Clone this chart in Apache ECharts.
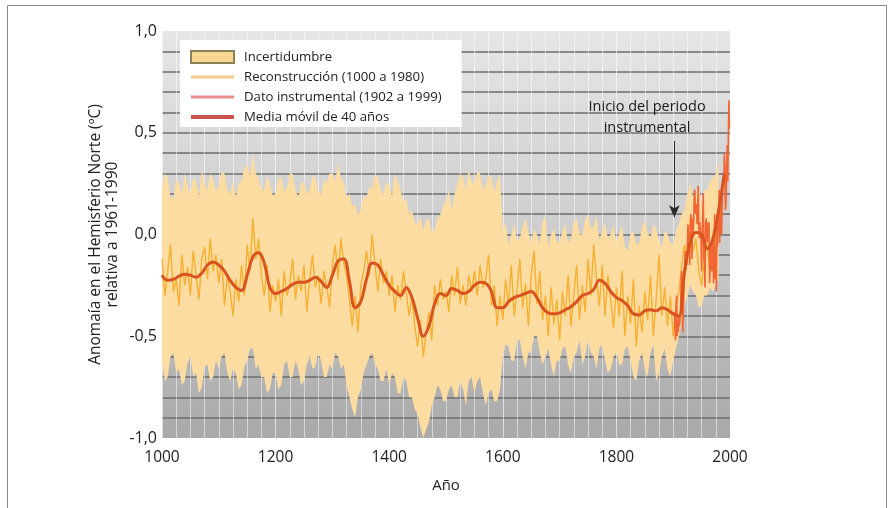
<!DOCTYPE html>
<html>
<head>
<meta charset="utf-8">
<script src="https://cdn.jsdelivr.net/npm/echarts@6/dist/echarts.min.js"></script>
<style>
html,body{margin:0;padding:0;background:#fff;}
#c{width:891px;height:508px;}
</style>
</head>
<body>
<div id="c"></div>
<script>
// ---------- DATA ----------
// Reconstruction, every 5 years 1000..1980
const reconStart = 1000, reconStep = 5;
const reconValues = [
 -0.12,-0.30,-0.18,-0.05,-0.28,-0.22,-0.35,-0.10,-0.25,-0.16,
 -0.30,-0.08,-0.20,-0.32,-0.12,-0.06,-0.22,-0.02,-0.18,-0.10,
 -0.24,-0.12,-0.35,-0.20,-0.28,-0.40,-0.22,-0.33,-0.15,-0.30,
 -0.05,-0.18,0.08,-0.12,-0.02,-0.20,-0.30,-0.15,-0.38,-0.25,
 -0.33,-0.22,-0.40,-0.18,-0.30,-0.24,-0.12,-0.32,-0.20,-0.28,
 -0.15,-0.38,-0.22,-0.10,-0.26,-0.20,-0.34,-0.18,-0.25,-0.36,
 -0.15,-0.05,-0.22,-0.02,-0.14,-0.20,-0.32,-0.45,-0.30,-0.48,
 -0.25,-0.18,-0.08,-0.20,0.00,-0.15,-0.28,-0.12,-0.24,-0.18,
 -0.30,-0.20,-0.38,-0.25,-0.32,-0.18,-0.28,-0.40,-0.30,-0.45,
 -0.55,-0.42,-0.60,-0.48,-0.38,-0.52,-0.25,-0.35,-0.22,-0.32,
 -0.28,-0.38,-0.20,-0.30,-0.16,-0.34,-0.25,-0.35,-0.20,-0.28,
 -0.18,-0.30,-0.15,-0.26,-0.22,-0.10,-0.35,-0.25,-0.45,-0.30,
 -0.42,-0.22,-0.35,-0.15,-0.40,-0.28,-0.12,-0.36,-0.24,-0.45,
 -0.20,-0.08,-0.34,-0.18,-0.42,-0.30,-0.50,-0.26,-0.44,-0.32,
 -0.52,-0.28,-0.40,-0.20,-0.45,-0.30,-0.15,-0.42,-0.25,-0.38,
 -0.12,-0.30,-0.05,-0.22,-0.35,-0.15,-0.40,-0.20,-0.32,-0.46,
 -0.26,-0.40,-0.18,-0.50,-0.30,-0.44,-0.22,-0.55,-0.35,-0.48,
 -0.28,-0.42,-0.20,-0.50,-0.32,-0.10,-0.40,-0.26,-0.45,-0.30,
 -0.50,-0.35,-0.28,-0.15,-0.05,-0.12,0.05,-0.08,-0.02,-0.18,
 -0.25,-0.10,-0.05,-0.20,0.00,0.08,0.12
];
// Uncertainty band, every 5 years 1000..1980
const bandStart = 1000, bandStep = 5;
const bandUpper = [
 0.22,0.30,0.28,0.18,0.18,0.27,0.25,0.20,0.30,0.24, 0.20,0.28,0.26,0.19,0.32,0.25,0.22,0.30,0.27,0.21,
 0.24,0.31,0.30,0.22,0.20,0.26,0.18,0.25,0.26,0.33, 0.34,0.29,0.40,0.30,0.28,0.22,0.22,0.29,0.25,0.19,
 0.20,0.27,0.28,0.21,0.23,0.30,0.30,0.22,0.18,0.25, 0.26,0.20,0.22,0.29,0.28,0.21,0.20,0.27,0.25,0.30,
 0.30,0.26,0.35,0.28,0.26,0.18,0.20,0.14,0.15,0.10, 0.12,0.19,0.18,0.24,0.22,0.30,0.28,0.22,0.20,0.26,
 0.24,0.19,0.30,0.26,0.22,0.16,0.18,0.10,0.12,0.06, 0.05,0.09,0.02,0.07,0.08,0.01,0.03,0.08,0.10,0.14,
 0.16,0.22,0.12,0.20,0.25,0.30,0.28,0.22,0.32,0.26, 0.25,0.31,0.30,0.22,0.24,0.29,0.28,0.21,0.26,0.30,
 0.02,0.06,-0.05,0.00,0.05,-0.03,-0.02,0.04,0.08,0.01, -0.04,0.03,0.00,-0.05,0.06,0.09,-0.06,0.00,0.03,-0.03,
 -0.04,0.02,0.05,-0.04,-0.02,0.06,0.08,0.00,0.00,0.07, 0.10,0.03,0.04,0.09,-0.03,0.02,0.06,-0.02,0.00,0.05,
 -0.05,0.01,0.04,-0.06,-0.08,0.00,0.02,-0.05,-0.04,0.03, 0.07,0.01,-0.02,0.05,0.03,-0.03,-0.06,0.02,0.00,-0.04,
 -0.05,0.02,0.05,0.10,0.12,0.20,0.25,0.18,0.20,0.24, 0.15,0.22,0.22,0.26,0.28,0.30,0.35
];
const bandLower = [
 -0.62,-0.72,-0.70,-0.60,-0.58,-0.68,-0.66,-0.74,-0.72,-0.63, -0.60,-0.70,-0.68,-0.78,-0.75,-0.65,-0.64,-0.72,-0.70,-0.62,
 -0.66,-0.60,-0.58,-0.68,-0.72,-0.66,-0.68,-0.76,-0.74,-0.65, -0.62,-0.56,-0.56,-0.66,-0.64,-0.70,-0.70,-0.78,-0.76,-0.68,
 -0.68,-0.76,-0.74,-0.64,-0.62,-0.70,-0.70,-0.62,-0.66,-0.74, -0.72,-0.64,-0.60,-0.66,-0.65,-0.58,-0.62,-0.70,-0.70,-0.64,
 -0.66,-0.58,-0.60,-0.66,-0.64,-0.74,-0.80,-0.86,-0.90,-0.80, -0.76,-0.68,-0.64,-0.60,-0.58,-0.64,-0.66,-0.72,-0.72,-0.66,
 -0.74,-0.68,-0.70,-0.78,-0.78,-0.70,-0.72,-0.80,-0.80,-0.86, -0.88,-0.95,-1.00,-0.96,-0.92,-0.84,-0.80,-0.74,-0.76,-0.82,
 -0.82,-0.76,-0.74,-0.80,-0.80,-0.72,-0.76,-0.84,-0.72,-0.70, -0.78,-0.72,-0.70,-0.78,-0.84,-0.78,-0.76,-0.82,-0.82,-0.76,
 -0.60,-0.54,-0.55,-0.62,-0.62,-0.52,-0.52,-0.60,-0.66,-0.58, -0.58,-0.50,-0.50,-0.58,-0.64,-0.60,-0.56,-0.64,-0.70,-0.62,
 -0.62,-0.56,-0.55,-0.64,-0.68,-0.60,-0.58,-0.52,-0.64,-0.60, -0.52,-0.58,-0.60,-0.66,-0.56,-0.54,-0.62,-0.68,-0.66,-0.60,
 -0.58,-0.64,-0.64,-0.56,-0.55,-0.62,-0.70,-0.72,-0.62,-0.58, -0.66,-0.70,-0.58,-0.54,-0.72,-0.68,-0.60,-0.56,-0.66,-0.70,
 -0.62,-0.56,-0.50,-0.42,-0.35,-0.30,-0.25,-0.28,-0.30,-0.36, -0.35,-0.30,-0.30,-0.26,-0.28,-0.24,-0.22
];
// Instrumental, annual 1902..1999
const instStart = 1902;
const instValues = [
 -0.38,-0.45,-0.52,-0.35,-0.30,-0.50,-0.44,-0.48,-0.40,-0.45,
 -0.42,-0.38,-0.22,-0.18,-0.33,-0.48,-0.35,-0.25,-0.20,-0.08,
 -0.18,-0.12,-0.15,-0.05,0.05,-0.02,0.00,-0.15,0.05,0.10,
 0.02,-0.12,0.08,0.00,0.06,0.18,0.22,0.12,0.10,0.15,
 0.05,0.12,0.24,0.06,-0.02,0.06,0.00,-0.02,-0.18,0.02,
 0.08,0.20,-0.12,-0.14,-0.26,0.04,0.08,0.02,-0.04,0.06,
 0.04,0.06,-0.24,-0.16,-0.08,-0.06,-0.18,-0.02,-0.06,-0.24,
 -0.12,0.10,-0.22,-0.06,-0.28,0.04,-0.06,0.04,0.10,0.22,
 -0.04,0.20,0.04,0.00,0.10,0.20,0.28,0.24,0.40,0.34,
 0.12,0.16,0.30,0.44,0.26,0.46,0.66,0.52
];
// 40-year moving mean, every 10 years 1000..1990
const meanStart = 1000, meanStep = 10;
const meanValues = [
 -0.20,-0.225,-0.22,-0.205,-0.195,-0.20,-0.21,-0.19,-0.15,-0.135,
 -0.15,-0.18,-0.225,-0.26,-0.275,-0.20,-0.11,-0.09,-0.14,-0.26,
 -0.29,-0.28,-0.265,-0.245,-0.235,-0.235,-0.225,-0.21,-0.23,-0.26,
 -0.20,-0.13,-0.12,-0.23,-0.36,-0.33,-0.22,-0.14,-0.15,-0.20,
 -0.25,-0.28,-0.30,-0.26,-0.31,-0.41,-0.50,-0.45,-0.34,-0.29,
 -0.30,-0.265,-0.275,-0.29,-0.28,-0.25,-0.235,-0.24,-0.28,-0.36,
 -0.36,-0.33,-0.31,-0.30,-0.29,-0.28,-0.31,-0.36,-0.385,-0.39,
 -0.385,-0.37,-0.355,-0.33,-0.30,-0.29,-0.27,-0.225,-0.24,-0.28,
 -0.31,-0.325,-0.35,-0.39,-0.395,-0.375,-0.37,-0.375,-0.36,-0.37,
 -0.39,-0.40,-0.18,-0.04,0.01,0.00,-0.07,-0.02,0.12,0.30
];
const xTicks = [1000, 1200, 1400, 1600, 1800, 2000];
const yTickLabels = ['-1,0', '-0,5', '0,0', '0,5', '1,0'];
const legendNames = ['Incertidumbre', 'Reconstrucción (1000 a 1980)', 'Dato instrumental (1902 a 1999)', 'Media móvil de 40 años'];
const annotationText = 'Inicio del periodo\ninstrumental';
const annotationYear = 1902;

// ---------- BUILD ----------
const pairs = (start, step, vals) => vals.map((v, i) => [start + i * step, v]);
const reconData = pairs(reconStart, reconStep, reconValues);
const bandData = bandUpper.map((u, i) => [bandStart + i * bandStep, u, bandLower[i]]);
const instData = pairs(instStart, 1, instValues);
const meanData = pairs(meanStart, meanStep, meanValues);

const FONT = '"Open Sans", "Noto Sans", sans-serif';
const chart = echarts.init(document.getElementById('c'), null, {renderer: 'canvas'});

function renderBand(params, api) {
  if (params.dataIndex !== 0) return null;
  const top = [], bottom = [];
  for (let i = 0; i < bandData.length; i++) {
    top.push(api.coord([bandData[i][0], bandData[i][1]]));
    bottom.push(api.coord([bandData[i][0], bandData[i][2]]));
  }
  const points = top.concat(bottom.reverse());
  return {
    type: 'polygon',
    shape: {points: points},
    style: {fill: '#fddca2', stroke: 'none'}
  };
}

const option = {
  backgroundColor: '#ffffff',
  animation: false,
  textStyle: {fontFamily: FONT},
  graphic: [{
    type: 'rect', left: 5, top: 3, z: 100, silent: true,
    shape: {width: 879, height: 520},
    style: {fill: 'none', stroke: '#8a8a8a', lineWidth: 1}
  }],
  grid: {
    left: 162, right: 161, top: 31, bottom: 70, show: true, borderWidth: 0,
    backgroundColor: new echarts.graphic.LinearGradient(0, 0, 0, 1, [
      {offset: 0, color: '#e6e6e6'},
      {offset: 0.5, color: '#cdcdcd'},
      {offset: 1, color: '#a9a9a9'}
    ])
  },
  legend: {
    orient: 'vertical', left: 180, top: 40,
    itemWidth: 43, itemHeight: 12, itemGap: 6,
    padding: [10, 20, 3, 9],
    backgroundColor: '#ffffff',
    textStyle: {fontSize: 13.2, lineHeight: 14, color: '#222', fontFamily: FONT, padding: [0, 0, 0, 5]},
    data: [
      {name: legendNames[0], icon: 'rect', itemStyle: {color: '#f7d88e', borderColor: '#8c8058', borderWidth: 2}},
      {name: legendNames[1], itemStyle: {opacity: 0}, lineStyle: {color: '#ecc27a', width: 3}},
      {name: legendNames[2], itemStyle: {opacity: 0}, lineStyle: {color: '#e58e8a', width: 3}},
      {name: legendNames[3], itemStyle: {opacity: 0}, lineStyle: {color: '#cc5450', width: 4}}
    ]
  },
  xAxis: {
    type: 'value', min: 1000, max: 2000, interval: 200,
    name: 'Año', nameLocation: 'middle', nameGap: 40,
    nameTextStyle: {fontSize: 15, color: '#222', fontFamily: FONT},
    axisLine: {show: false}, axisTick: {show: false},
    axisLabel: {fontSize: 15.5, color: '#222', margin: 12, fontFamily: FONT,
      formatter: v => xTicks.indexOf(v) >= 0 ? String(v) : ''},
    splitLine: {show: true, lineStyle: {color: 'rgba(255,255,255,0.6)', width: 1}},
    minorTick: {show: false, splitNumber: 8},
    minorSplitLine: {show: true, lineStyle: {color: 'rgba(255,255,255,0.5)', width: 1}}
  },
  yAxis: {
    type: 'value', min: -1, max: 1, interval: 0.1,
    name: 'Anomaía en el Hemisferio Norte (ºC)\nrelativa a 1961-1990',
    nameLocation: 'middle', nameRotate: 90, nameGap: 41, nameMoveOverlap: false,
    nameTextStyle: {fontSize: 15.5, color: '#222', lineHeight: 17, align: 'center', fontFamily: FONT},
    axisLine: {show: false}, axisTick: {show: false},
    axisLabel: {fontSize: 16, color: '#222', margin: 5, fontFamily: FONT,
      formatter: v => {
        const k = Math.round(v * 2);
        if (Math.abs(v * 2 - k) > 1e-6) return '';
        return yTickLabels[k + 2];
      }},
    splitLine: {show: true, showMinLine: false, showMaxLine: false,
      lineStyle: {color: '#6d6d6d', width: 1.7}}
  },
  series: [
    {
      name: legendNames[0], type: 'custom', data: bandData,
      encode: {x: 0, y: [1, 2]}, renderItem: renderBand, clip: true,
      itemStyle: {color: '#f7d88e'}, z: 2, silent: true
    },
    {
      name: legendNames[1], type: 'line', data: reconData, symbol: 'none',
      itemStyle: {color: '#f5a81e'},
      lineStyle: {color: '#f5a81e', width: 1.4, opacity: 0.85}, z: 3
    },
    {
      name: legendNames[2], type: 'line', data: instData, symbol: 'none',
      itemStyle: {color: '#f26633'},
      lineStyle: {color: '#f26633', width: 1.6}, z: 4,
      markLine: {
        silent: true, symbol: ['none', 'arrow'], symbolSize: [8, 12],
        lineStyle: {color: '#2a2a2a', width: 1, type: 'solid'},
        label: {show: false},
        data: [[{coord: [annotationYear, 0.46]}, {coord: [annotationYear, 0.085]}]]
      }
    },
    {
      name: legendNames[3], type: 'line', data: meanData, symbol: 'none', smooth: 0.4,
      itemStyle: {color: '#d9531f'},
      lineStyle: {color: '#d9531f', width: 3}, z: 5,
      markPoint: {
        silent: true, symbol: 'circle', symbolSize: 0,
        label: {show: true, position: 'inside', formatter: annotationText,
          fontSize: 14.5, lineHeight: 21, color: '#1a1a1a', align: 'center', fontFamily: FONT},
        data: [{coord: [1854, 0.574]}]
      }
    }
  ]
};
chart.setOption(option);
</script>
</body>
</html>
